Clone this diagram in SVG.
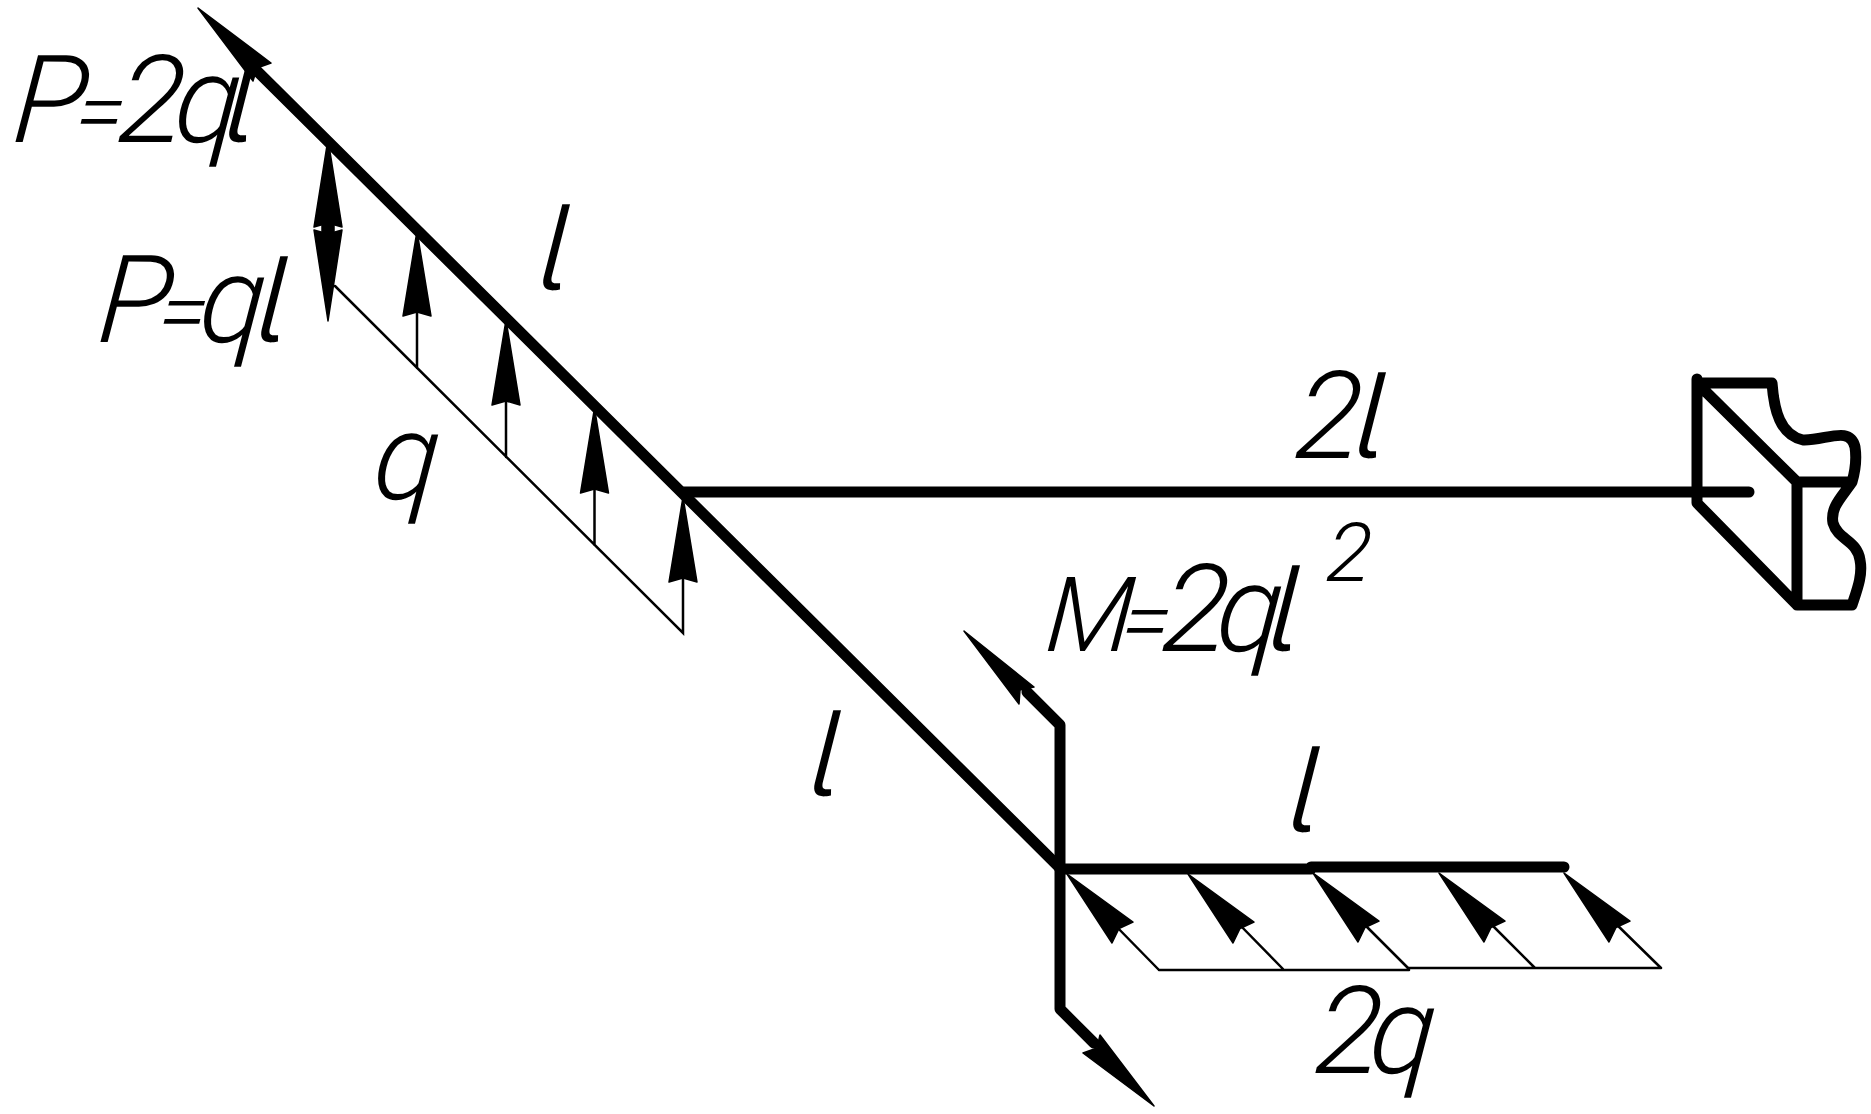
<svg xmlns="http://www.w3.org/2000/svg" width="1871" height="1114" viewBox="0 0 1871 1114">
<style>
.b{fill:none;stroke:#000;stroke-width:11;stroke-linecap:round;stroke-linejoin:round}
.t{fill:none;stroke:#000;stroke-width:2.500;stroke-linecap:round}
.h{fill:#000;stroke:#000;stroke-width:1.500;stroke-linejoin:round}
.l{font-family:Roboto,"Liberation Sans",sans-serif;font-style:italic;font-weight:300;font-size:122px;fill:#000}
.e{font-size:90px}
.i{font-family:Inter,Roboto,sans-serif;font-weight:300;font-size:118px;font-feature-settings:"cv05" 1}
.s{font-size:82px}
</style>
<defs>
<path id="up" d="M0 0L14 85L0 81L-14 85Z"/>
<path id="ul" d="M0 0L66 48L52 54.500L45 69Z"/>
</defs>
<rect width="1871" height="1114" fill="#fff"/>
<g id="connectors">
<path class="b" d="M255 69L1060 868"/>
<path class="b" d="M684 492H1749"/>
<path class="b" d="M1060 869H1311M1311 867H1564"/>
<path class="b" d="M1027 692L1060 725V1009L1094 1043"/>
<path class="t" d="M335 286L683 633V560M417 368V300M506 457V390M594.500 545V480M1159 970L1112 922M1283 969L1236 921M1409 969L1361 921M1535 968L1487 920M1661 968L1612 920M1159 970H1409M1409 968H1661"/>
<g class="h">
<path d="M198 8L271 63L257 68L253 81Z"/>
<path d="M964 631L1034 687L1020 690L1019 704Z"/>
<path d="M1154 1106L1100 1035L1097 1048L1083 1053Z"/>
<path d="M328 139L342 227L328 223L314 227Z"/>
<path d="M328 321L342 230L328 234L314 230Z"/>
<path d="M322 220H334V238H322Z"/>
<use href="#up" x="417" y="231"/>
<use href="#up" x="506" y="320"/>
<use href="#up" x="594.500" y="408"/>
<use href="#up" x="683" y="497"/>
<use href="#ul" x="1067" y="874"/>
<use href="#ul" x="1188" y="874"/>
<use href="#ul" x="1313" y="873"/>
<use href="#ul" x="1439" y="873"/>
<use href="#ul" x="1564" y="873"/>
</g>
</g>
<g id="support">
<path class="b" d="M1697 379V503L1797 605H1852M1697 383H1772C1774 410 1780 435 1803 440C1825 441 1850 425 1855 447C1857 460 1854 475 1852 482H1797M1697 383L1797 482V605M1852 482C1842 497 1830 507 1833 523C1838 540 1857 540 1860 560C1863 575 1857 590 1852 605"/>
</g>
<g id="label-p2ql"><text class="l" transform="translate(0 142) skewX(-5)"><tspan x="11">P</tspan><tspan class="e" x="74">=</tspan><tspan x="116">2</tspan><tspan x="172">q</tspan><tspan class="i" x="222">l</tspan></text></g>
<g id="label-pql"><text class="l" transform="translate(0 342) skewX(-5)"><tspan x="96">P</tspan><tspan class="e" x="157">=</tspan><tspan x="197">q</tspan><tspan class="i" x="254">l</tspan></text></g>
<g id="label-l1"><text class="l i" transform="translate(536 290) skewX(-5)">l</text></g>
<g id="label-q"><text class="l" transform="translate(371 499) skewX(-5)">q</text></g>
<g id="label-2l"><text class="l" transform="translate(0 458) skewX(-5)"><tspan x="1293">2</tspan><tspan class="i" x="1352">l</tspan></text></g>
<g id="label-l2"><text class="l i" transform="translate(807 796) skewX(-5)">l</text></g>
<g id="label-l3"><text class="l i" transform="translate(1286 832) skewX(-5)">l</text></g>
<g id="label-m"><text class="l" transform="translate(0 651) skewX(-5)"><tspan font-size="104" x="1044">M</tspan><tspan class="e" x="1120">=</tspan><tspan x="1160">2</tspan><tspan x="1214">q</tspan><tspan class="i" x="1266">l</tspan></text></g>
<g id="label-exp"><text class="l s" transform="translate(1325 581) skewX(-5)">2</text></g>
<g id="label-2q"><text class="l" transform="translate(0 1073) skewX(-5)"><tspan x="1313">2</tspan><tspan x="1367">q</tspan></text></g>
</svg>
